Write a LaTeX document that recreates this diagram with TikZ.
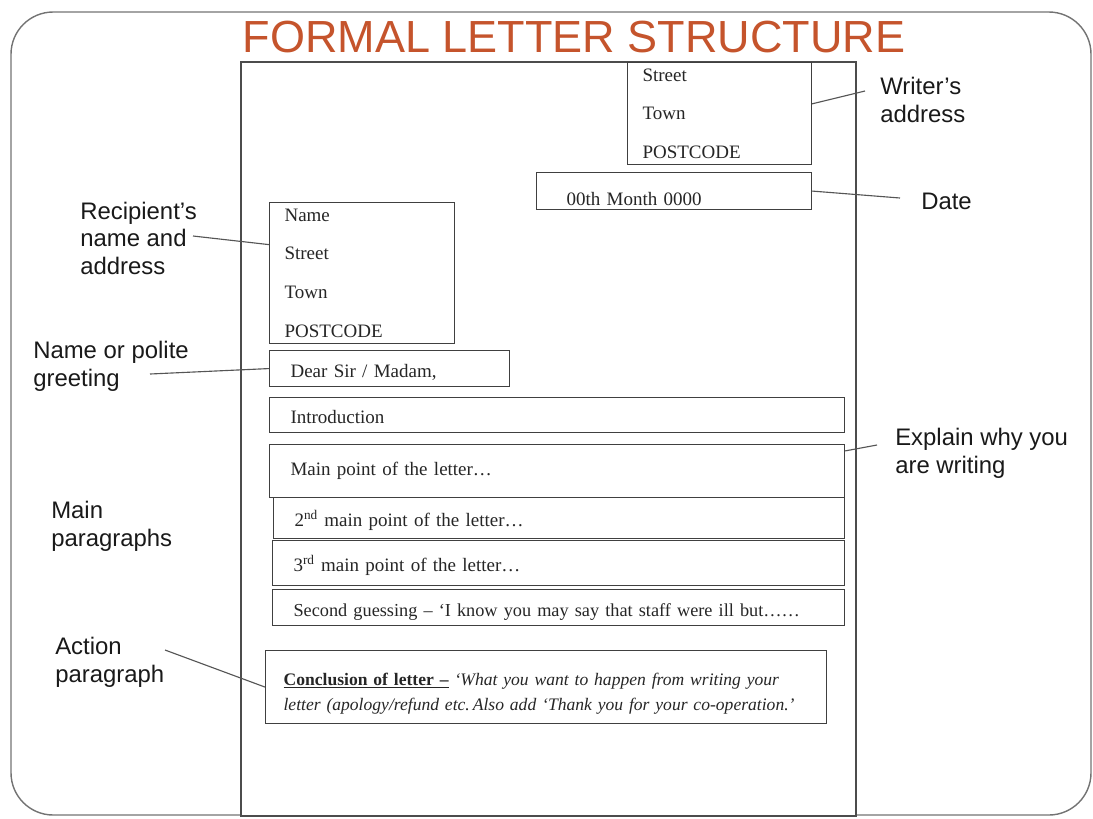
\documentclass[tikz,border=0pt]{standalone}
\usepackage{fontspec}
\setmainfont{Liberation Serif}
\setsansfont{Liberation Sans}
\definecolor{titleorange}{RGB}{197,84,44}
\definecolor{linegray}{RGB}{85,85,85}
\tikzset{
  lbox/.style n args={3}{draw=black!75, line width=0.8pt, anchor=north west, align=left,
    inner ysep=0pt, inner xsep=#3*0.025cm, text width=#1*0.025cm-#3*0.05cm,
    minimum height=#2*0.025cm, font=\fontsize{13.5}{18}\selectfont, text=black!85},
  lowtext/.style={text height=14pt, text depth=2pt},
  addr/.style={font=\fontsize{13.5}{27.5}\selectfont},
  lbl/.style={anchor=base west, align=left, inner sep=0pt, font=\sffamily\fontsize{17}{19.5}\selectfont, text=black!90},
  pointer/.style={draw=linegray, line width=0.8pt}
}
\begin{document}
\begin{tikzpicture}[x=0.025cm,y=-0.025cm]
	\useasboundingbox (0,0) rectangle (1093,818);
	\draw[black!55, line width=1pt, rounded corners=30pt] (11,12) rectangle (1091,815);
	\node[anchor=base, inner sep=0pt, font=\sffamily\fontsize{32}{36}\selectfont, text=titleorange] (title) at (574,52) {FORMAL LETTER STRUCTURE};
	% the page
	\draw[black!70, line width=0.8pt, fill=white] (241,62) rectangle (856,816);

	\node[lbox={184}{102}{15}, addr] (writer) at (627,62) {Street\\Town\\POSTCODE};
	\node[lbox={275}{37}{30}, text height=22pt, text depth=2pt] (date) at (536,172) {00th Month 0000};
	\node[lbox={185}{141}{15}, addr] (recip) at (269,202) {Name\\Street\\Town\\POSTCODE};
	\node[lbox={240}{36}{21}, lowtext] (dear) at (269,350) {Dear Sir / Madam,};
	\node[lbox={575}{35}{21}, lowtext] (intro) at (269,397) {Introduction};
	\node[lbox={575}{53}{21}] (main) at (269,444) {Main point of the letter\ldots};
	\node[lbox={571}{41}{21}, lowtext] (second) at (273,497) {2\textsuperscript{nd} main point of the letter\ldots};
	\node[lbox={572}{45}{21}, lowtext] (third) at (272,540) {3\textsuperscript{rd} main point of the letter\ldots};
	\node[lbox={572}{36}{21}, lowtext, font=\fontsize{13}{18}\selectfont] (guess) at (272,589) {Second guessing -- ‘I know you may say that staff were ill but\ldots\ldots};
	\node[lbox={561}{73}{18}, text height=18pt, font=\fontsize{12.5}{18}\selectfont] (concl) at (265,650)
	  {\underline{\textbf{Conclusion of letter --}} \textit{‘What you want to happen from writing your}\\
	   \textit{letter (apology/refund etc.\,Also add ‘Thank you for your co-operation.’}};

	% labels round the page
	\node[lbl] (lwriter) at (880,122) {Writer’s\\address};
	\node[lbl] (ldate) at (921,209) {Date};
	\node[lbl] (lrecip) at (80,274) {Recipient’s\\name and\\address};
	\node[lbl] (lgreet) at (33,386) {Name or polite\\greeting};
	\node[lbl] (lexplain) at (895,473) {Explain why you\\are writing};
	\node[lbl] (lmain) at (51,546) {Main\\paragraphs};
	\node[lbl] (laction) at (55,682) {Action\\paragraph};

	\coordinate (cwriter) at (865,91);
	\coordinate (cdate) at (900,198);
	\coordinate (crecip) at (193,236);
	\coordinate (cgreet) at (150,374);
	\coordinate (cexplain) at (877,445);
	\coordinate (caction) at (165,650);
	\draw[pointer] (writer.6) -- (cwriter);
	\draw[pointer] (date.east) -- (cdate);
	\draw[pointer] (crecip) -- (recip.163);
	\draw[pointer] (cgreet) -- (dear.west);
	\draw[pointer] (main.4) -- (cexplain);
	\draw[pointer] (caction) -- (concl.west);
\end{tikzpicture}
\end{document}
